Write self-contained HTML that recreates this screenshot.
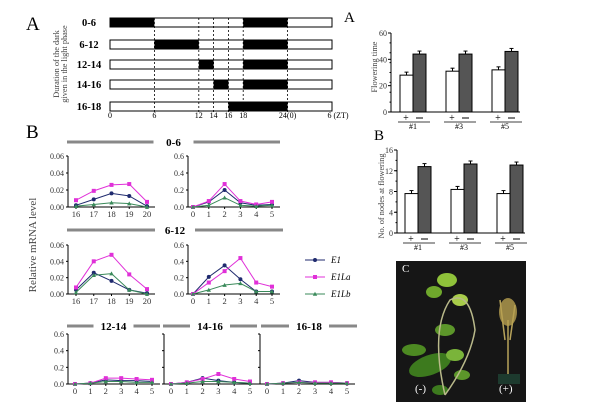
<!DOCTYPE html>
<html><head><meta charset="utf-8"><style>
html,body{margin:0;padding:0;background:#fff;width:600px;height:408px;overflow:hidden}
svg{display:block;font-family:"Liberation Serif",serif}
</style></head><body>
<svg id="s" width="600" height="408" viewBox="0 0 600 408" xmlns="http://www.w3.org/2000/svg">
<rect width="600" height="408" fill="#fff"/>
<text x="26" y="30" font-size="19">A</text>
<text x="26" y="138" font-size="19">B</text>
<text x="344" y="22" font-size="15">A</text>
<text x="374" y="140" font-size="15">B</text>
<g font-size="8.3" fill="#444" text-anchor="middle">
<text transform="translate(59,64) rotate(-90)">Duration of the dark</text>
<text transform="translate(67,64) rotate(-90)">given in the light phase</text>
<text transform="translate(36,245) rotate(-90)" font-size="11">Relative mRNA level</text>
<text transform="translate(377,67) rotate(-90)">Flowering time</text>
<text transform="translate(384,196) rotate(-90)">No. of nodes at flowering</text>
</g>
<g id="g"></g>
<rect x="396" y="261" width="130" height="141" fill="#161616"/>
<g>
<ellipse cx="430" cy="365" rx="22" ry="10" fill="#3d7a1e" transform="rotate(-20 430 365)"/>
<ellipse cx="447" cy="280" rx="10" ry="7" fill="#8fc23a"/>
<ellipse cx="434" cy="292" rx="8" ry="6" fill="#6fa82c"/>
<ellipse cx="460" cy="300" rx="8" ry="6" fill="#a8cc4a"/>
<ellipse cx="445" cy="330" rx="10" ry="6" fill="#5c962a"/>
<ellipse cx="414" cy="350" rx="12" ry="6" fill="#4d8a22"/>
<ellipse cx="455" cy="355" rx="9" ry="6" fill="#7ab43a"/>
<ellipse cx="462" cy="375" rx="8" ry="5" fill="#5c962a"/>
<ellipse cx="440" cy="390" rx="8" ry="5" fill="#3d7a1e"/>
<path d="M445 395 Q430 330 450 300 Q470 290 475 330 Q470 360 445 395" stroke="#b9b98a" fill="none" stroke-width="1.5"/>
<path d="M508 380 L508 320 M500 300 L505 340 M515 305 L510 340" stroke="#b7a35a" stroke-width="1.5"/>
<ellipse cx="508" cy="312" rx="9" ry="14" fill="#b8a050" opacity=".8"/>
<rect x="498" y="374" width="22" height="10" fill="#1d3a2e"/>
</g>
<g fill="#fff" font-size="11"><text x="402" y="272">C</text><text x="415" y="392">(-)</text><text x="499" y="392">(+)</text></g>
</svg>
<script>
var g=document.getElementById('g'),h='';
function L(x1,y1,x2,y2,c,w,d){h+='<line x1="'+x1+'" y1="'+y1+'" x2="'+x2+'" y2="'+y2+'" stroke="'+(c||'#000')+'" stroke-width="'+(w||1)+'"'+(d?' stroke-dasharray="'+d+'"':'')+'/>';}
function R(x,y,w,hh,f,s){h+='<rect x="'+x+'" y="'+y+'" width="'+w+'" height="'+hh+'" fill="'+f+'"'+(s?' stroke="#000" stroke-width="1"':'')+'/>';}
function T(x,y,t,s,a,b,c){h+='<text x="'+x+'" y="'+y+'" font-size="'+s+'" text-anchor="'+(a||'middle')+'"'+(b?' font-weight="bold"':'')+' fill="'+(c||'#000')+'">'+t+'</text>';}
var X=function(t){return 110+t*7.4};
var rows=[[18,'0-6',[[0,6],[18,24]]],[40,'6-12',[[6,12],[18,24]]],[60,'12-14',[[12,14],[18,24]]],[80,'14-16',[[14,16],[18,24]]],[102,'16-18',[[16,24]]]];
rows.forEach(function(r){R(110,r[0],222,9,'#fff',1);r[2].forEach(function(s){R(X(s[0]),r[0],X(s[1])-X(s[0]),9,'#000')});T(89,r[0]+8,r[1],10.5,'middle',1);});
[6,12,14,16,18,24].forEach(function(t){L(X(t),18,X(t),112,'#000',0.8,'2,2')});
[[0,'0'],[6,'6'],[12,'12'],[14,'14'],[16,'16'],[18,'18'],[24,'24(0)']].forEach(function(a){T(X(a[0]),118,a[1],8)});T(X(30)+6,118,'6 (ZT)',8);
function H(x1,x2,lab,y){var m=(x1+x2)/2;L(x1,y,m-20,y,'#888',3);L(m+20,y,x2,y,'#888',3);T(m,y+4,lab,11,'middle',1);}
H(67,280,'0-6',142);H(67,283,'6-12',230);H(67,160,'12-14',326);H(163,257,'14-16',326);H(261,357,'16-18',326);
var C=['#1f2a6e','#e030d8','#3a8a5a'];
function P(ax,x0,dx,xl,yt,yb,max,ylabs,data,tick){
 L(ax,yt,ax,yb);L(ax,yb,x0+dx*(xl.length-1)+8,yb);
 ylabs.forEach(function(v,i){var y=yb-(yb-yt)*i/(ylabs.length-1);L(ax-2,y,ax,y);if(tick)T(ax-4,y+3,v,8,'end',0,'#333')});
 xl.forEach(function(v,i){var x=x0+dx*i;L(x,yb,x,yb+2);T(x,yb+10,v,8.5,'middle',0,'#333')});
 data.forEach(function(s,k){var pts=s.map(function(v,i){return (x0+dx*i)+','+(yb-(yb-yt)*v/max)}).join(' ');
  h+='<polyline points="'+pts+'" fill="none" stroke="'+C[k]+'" stroke-width="1"/>';
  s.forEach(function(v,i){var x=x0+dx*i,y=yb-(yb-yt)*v/max;
   if(k==0)h+='<circle cx="'+x+'" cy="'+y+'" r="2" fill="'+C[0]+'"/>';
   else if(k==1)R(x-2,y-2,4,4,C[1]);
   else h+='<polygon points="'+x+','+(y-2.2)+' '+(x-2.2)+','+(y+1.8)+' '+(x+2.2)+','+(y+1.8)+'" fill="'+C[2]+'"/>';});});
}
var l6=['0.00','0.02','0.04','0.06'],l06=['0.0','0.2','0.4','0.6'],h5=['16','17','18','19','20'],z=['0','1','2','3','4','5'];
P(68,76,17.75,h5,156,207,0.06,l6,[[.002,.009,.016,.013,.001],[.008,.019,.026,.027,.006],[.001,.003,.005,.004,0]],1);
P(188,193,15.8,z,156,207,0.6,l06,[[0,.06,.2,.05,.02,.03],[0,.07,.27,.07,.03,.06],[0,.02,.11,.02,.01,.02]],1);
P(68,76,17.75,h5,245,294,0.06,l6,[[.005,.026,.016,.005,.001],[.008,.04,.048,.024,.006],[.002,.023,.025,.005,0]],1);
P(188,193,15.8,z,245,294,0.6,l06,[[0,.21,.35,.18,.03,.03],[0,.14,.28,.44,.14,.09],[0,.05,.11,.13,.03,.03]],1);
P(68,75,15.4,z,334,384,0.6,l06,[[0,.01,.05,.04,.04,.03],[0,.01,.07,.07,.06,.05],[0,.01,.03,.03,.02,.02]],1);
P(164,171,15.8,z,334,384,0.6,l06,[[0,.02,.07,.04,.02,.01],[0,.02,.06,.12,.06,.03],[0,.01,.03,.03,.02,.01]],0);
P(260,267,16,z,334,384,0.6,l06,[[0,.01,.04,.02,.02,.01],[0,.01,.02,.02,.02,.01],[0,.01,.02,.01,.01,.01]],0);
['E1','E1La','E1Lb'].forEach(function(n,k){var y=[260,277,294][k];L(305,y,325,y,C[k]);
 if(k==0)h+='<circle cx="315" cy="'+y+'" r="2" fill="'+C[0]+'"/>';else if(k==1)R(313,y-2,4,4,C[1]);else h+='<polygon points="315,'+(y-2.2)+' 312.8,'+(y+1.8)+' 317.2,'+(y+1.8)+'" fill="'+C[2]+'"/>';
 h+='<text x="331" y="'+(y+3)+'" font-size="9" font-style="italic">'+n+'</text>';});
function B(ax,yt,yb,max,ticks,groups,vals){L(ax,yt,ax,yb);L(ax,yb,groups[2]+28,yb);
 ticks.forEach(function(v){var y=yb-(yb-yt)*v/max;L(ax-3,y,ax,y);T(ax-4,y+3,v,8,'end',0,'#333')});
 for(var i=0;i<=max;i+=max/8){var y=yb-(yb-yt)*i/max;L(ax-1.5,y,ax,y)}
 groups.forEach(function(x,i){var a=vals[i][0],b=vals[i][1];
  var ya=yb-(yb-yt)*a/max,yb2=yb-(yb-yt)*b/max;
  R(x,ya,13,yb-ya,'#fff',1);R(x+13,yb2,13,yb-yb2,'#555',1);
  L(x+6.5,ya,x+6.5,ya-3);L(x+4.5,ya-3,x+8.5,ya-3);L(x+19.5,yb2,x+19.5,yb2-3);L(x+17.5,yb2-3,x+21.5,yb2-3);
  T(x+6,yb+9,'+',10);L(x+16,yb+6,x+23,yb+6);L(x-2,yb+10,x+30,yb+10,'#000',0.8);T(x+13,yb+17,['#1','#3','#5'][i],8);});}
B(391,33,112,60,[0,20,40,60],[400,446,492],[[28,44],[31,44],[32,46]]);
B(397,150,233,16,[0,4,8,12,16],[405,451,497],[[7.6,12.8],[8.4,13.3],[7.6,13.1]]);
g.innerHTML=h;
</script>
</body></html>
